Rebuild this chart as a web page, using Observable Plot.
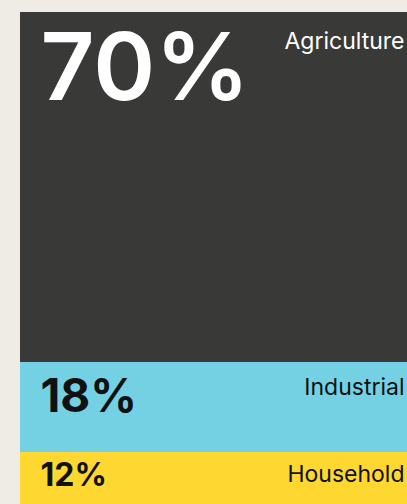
<!DOCTYPE html>
<html>
<head>
<meta charset="utf-8">
<script src="https://cdn.jsdelivr.net/npm/d3@7"></script>
<script src="https://cdn.jsdelivr.net/npm/@observablehq/plot@0.6"></script>
<style>
  html, body { margin: 0; padding: 0; background: #efece5; overflow: hidden; }
  #chart svg { display: block; }
</style>
</head>
<body>
<div id="chart"></div>
<script>
const categories = ["Agriculture", "Industrial", "Household"];
const shares = [70, 18, 12];

const fills = {Agriculture: "#393a37", Industrial: "#74d1e4", Household: "#fed831"};
const inks = {Agriculture: "#ffffff", Industrial: "#111111", Household: "#111111"};
const pctSize = {Agriculture: 94, Industrial: 46, Household: 32};
const pctWeight = {Agriculture: 600, Industrial: 700, Household: 700};
const pctPad = {Agriculture: 21, Industrial: 17, Household: 11};
const labPad = {Agriculture: 20, Industrial: 16, Household: 13};

const data = categories.map((c, i) => ({category: c, value: shares[i]}));

const marks = [
  Plot.barY(data, {x: () => "all", y: "value", fill: d => fills[d.category]})
];
for (const c of categories) {
  marks.push(Plot.text(data, Plot.stackY1({
    y: "value", text: d => d.category === c ? d.value + "%" : "", frameAnchor: "left", textAnchor: "start",
    lineAnchor: "top", dx: 20, dy: pctPad[c], fontSize: pctSize[c],
    fontWeight: pctWeight[c], fill: inks[c]
  })));
  marks.push(Plot.text(data, Plot.stackY1({
    y: "value", text: d => d.category === c ? d.category : "", frameAnchor: "right", textAnchor: "end",
    lineAnchor: "top", dx: -3, dy: labPad[c], fontSize: 23, fontWeight: 400, fill: inks[c]
  })));
}

const chart = Plot.plot({
  width: 407,
  height: 512,
  marginTop: 12,
  marginBottom: 0,
  marginLeft: 20,
  marginRight: 0,
  style: {background: "transparent", fontFamily: "Inter, sans-serif"},
  x: {axis: null, padding: 0},
  y: {axis: null, domain: [0, 100], range: [12, 512]},
  marks
});
document.getElementById("chart").appendChild(chart);
</script>
</body>
</html>
